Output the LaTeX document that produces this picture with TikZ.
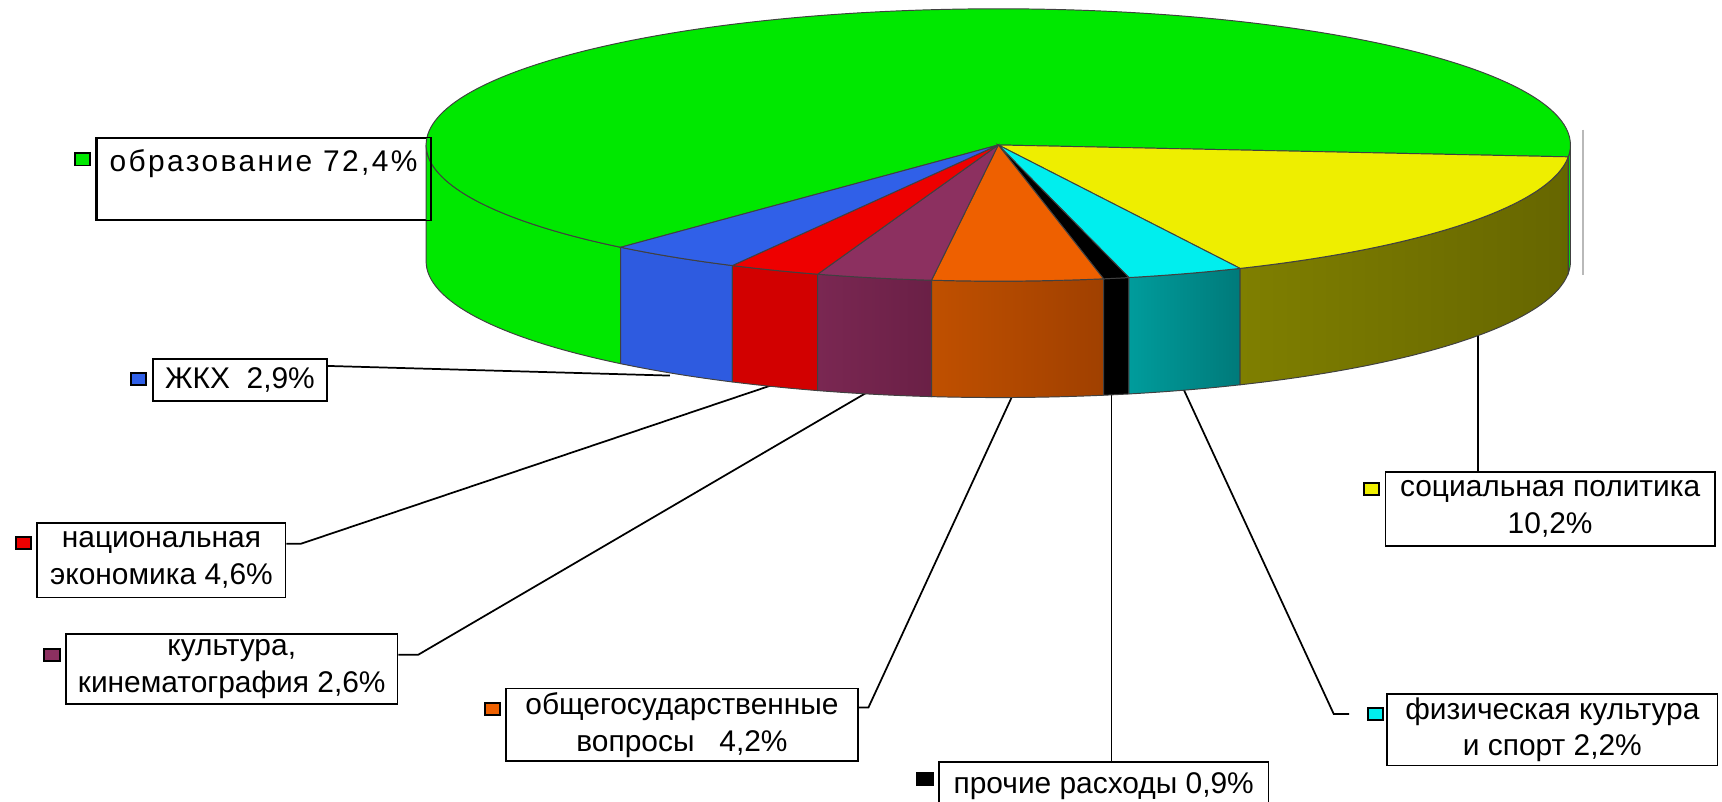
\documentclass[tikz,border=0pt]{standalone}
\usepackage{fontspec}
\setmainfont{Liberation Sans}
\newfontfamily\widefont[LetterSpace=8]{Liberation Sans}
\usetikzlibrary{positioning, calc}

\definecolor{edugreen}{HTML}{00E800}
\definecolor{socyellow}{HTML}{EEEE00}
\definecolor{socolive}{HTML}{7F7F00}
\definecolor{socolivedark}{HTML}{666600}
\definecolor{sportcyan}{HTML}{00EEEE}
\definecolor{sportteal}{HTML}{009C9C}
\definecolor{sporttealdark}{HTML}{007A7A}
\definecolor{govorange}{HTML}{EE6000}
\definecolor{govbrown}{HTML}{C05000}
\definecolor{govbrowndark}{HTML}{A04000}
\definecolor{culturepurple}{HTML}{8C3060}
\definecolor{culturedark}{HTML}{7A2752}
\definecolor{culturedarker}{HTML}{6A2046}
\definecolor{econred}{HTML}{EE0000}
\definecolor{econside}{HTML}{D20000}
\definecolor{housingblue}{HTML}{3060E8}
\definecolor{housingside}{HTML}{2E5BE0}

% top of one slice: start angle, end angle, colour
\newcommand{\slicetop}[3]{%
  \filldraw[rim, fill=#3] (apex) -- ($(apex)+(#1:521 and 124)$)
    arc[start angle=#1, end angle=#2, x radius=521, y radius=124] -- cycle;}
% front wall of one slice: start angle, end angle, left colour, right colour
\newcommand{\sliceside}[4]{%
  \shadedraw[rim, left color=#3, right color=#4] ($(apex)+(#1:521 and 124)$)
    arc[start angle=#1, end angle=#2, x radius=521, y radius=124] -- ++(0,106)
    arc[start angle=#2, end angle=#1, x radius=521, y radius=124] -- cycle;}

\begin{document}
\begin{tikzpicture}[
    x=0.02cm, y=-0.02cm,
    box/.style={draw, line width=0.9pt, align=center, inner sep=0pt, font=\fontsize{15.5}{19}\selectfont},
    key/.style={draw, line width=1pt, minimum width=0.28cm, minimum height=0.22cm, inner sep=0pt},
    leader/.style={line width=0.9pt},
    rim/.style={draw=black!75, line width=0.5pt}
  ]
  \useasboundingbox (0,0) rectangle (1568,730);
  \coordinate (apex) at (909,132);

  % Labels
  \node[box, minimum width=6.08cm, minimum height=1.48cm] (edu) at (240,163) {{\widefont образование 72,4\%}\\\mbox{}};
  \node[box, minimum width=3.18cm, minimum height=0.76cm] (housing) at (218.5,346) {ЖКХ\ \ 2,9\%};
  \node[box, minimum width=4.52cm, minimum height=1.36cm] (econ) at (147,510) {национальная\\экономика 4,6\%};
  \node[box, minimum width=6.04cm, minimum height=1.28cm] (culture) at (211,609) {культура,\\кинематография 2,6\%};
  \node[box, minimum width=6.40cm, minimum height=1.32cm] (gov) at (621,660) {общегосударственные\\вопросы\ \ \ 4,2\%};
  \node[box, minimum width=6.00cm, minimum height=0.88cm] (other) at (1005,716) {прочие расходы 0,9\%};
  \node[box, minimum width=6.02cm, minimum height=1.30cm] (sport) at (1413.5,664.5) {физическая культура\\и спорт 2,2\%};
  \node[box, minimum width=6.00cm, minimum height=1.34cm] (social) at (1411.5,463.5) {социальная политика\\10,2\%};

  % Legend keys
  \node[key, fill=edugreen, left=0.08cm of edu.north west, yshift=-0.40cm] (edukey) {};
  \node[key, fill=housingblue, left=0.08cm of housing.north west, yshift=-0.38cm] (housingkey) {};
  \node[key, fill=econred, left=0.08cm of econ.north west, yshift=-0.38cm] (econkey) {};
  \node[key, fill=culturepurple, left=0.08cm of culture.north west, yshift=-0.40cm] (culturekey) {};
  \node[key, fill=govorange, left=0.08cm of gov.north west, yshift=-0.38cm] (govkey) {};
  \node[key, fill=black, left=0.08cm of other.north west, yshift=-0.32cm] (otherkey) {};
  \node[key, fill=sportcyan, left=0.04cm of sport.north west, yshift=-0.38cm] (sportkey) {};
  \node[key, fill=socyellow, left=0.08cm of social.north west, yshift=-0.32cm] (socialkey) {};

  % Leader lines
  \coordinate (housingtip) at (610,342);
  \coordinate (econtip) at (702,351);
  \coordinate (culturetip) at (790,357);
  \coordinate (govtip) at (922,360);
  \coordinate (othertip) at (1012,359);
  \coordinate (sporttip) at (1078,355);
  \coordinate (socialtip) at (1346,305);
  \draw[leader] ($(housing.north east)+(0,7)$) -- (housingtip);
  \draw[leader] ($(econ.north east)+(0,20)$) -- ++(13,0) -- (econtip);
  \draw[leader] ($(culture.north east)+(0,20)$) -- ++(18,0) -- (culturetip);
  \draw[leader] ($(gov.north east)+(0,18)$) -- ++(9,0) -- (govtip);
  \draw[leader] (other.north -| othertip) -- (othertip);
  \draw[leader] ($(sportkey.west)+(-16,0)$) -- ++(-14,0) -- (sporttip);
  \draw[leader] (social.north -| socialtip) -- (socialtip);

  % Walls
  \sliceside{131.3}{180}{edugreen}{edugreen}
  \sliceside{117.7}{131.3}{housingside}{housingside}
  \sliceside{108.4}{117.7}{econside}{econside}
  \sliceside{96.7}{108.4}{culturedark}{culturedarker}
  \sliceside{79.4}{96.7}{govbrown}{govbrowndark}
  \sliceside{76.8}{79.4}{black}{black}
  \sliceside{65}{76.8}{sportteal}{sporttealdark}
  \sliceside{5}{65}{socolive}{socolivedark}
  \sliceside{0}{5}{edugreen}{edugreen}

  % Top
  \slicetop{131.3}{365}{edugreen}
  \slicetop{5}{65}{socyellow}
  \slicetop{65}{76.8}{sportcyan}
  \slicetop{76.8}{79.4}{black}
  \slicetop{79.4}{96.7}{govorange}
  \slicetop{96.7}{108.4}{culturepurple}
  \slicetop{108.4}{117.7}{econred}
  \slicetop{117.7}{131.3}{housingblue}

  \draw[gray!55, line width=1pt] (1441,118) -- (1441,250);

  % box outline over the pie
  \draw[line width=0.9pt] (edu.north west) rectangle (edu.south east);
\end{tikzpicture}
\end{document}
